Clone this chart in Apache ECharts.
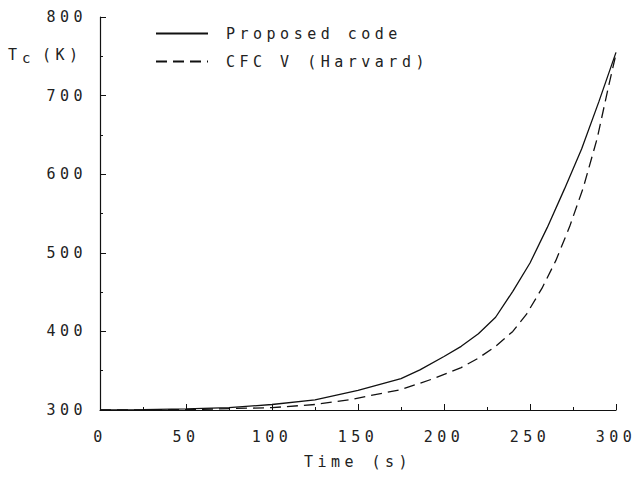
<!DOCTYPE html>
<html>
<head>
<meta charset="utf-8">
<script src="https://cdn.jsdelivr.net/npm/echarts@6/dist/echarts.min.js"></script>
<style>
html,body{margin:0;padding:0;background:#fff}
#c{width:638px;height:485px}
#c svg text{letter-spacing:4.5px}
</style>
</head>
<body>
<div id="c"></div>
<script>
const seriesNames = ['Proposed code', 'CFC V (Harvard)'];
const proposedT = [0, 25, 50, 75, 100, 125, 150, 175, 186, 200, 210, 220, 230, 240, 250, 260, 270, 280, 290, 300];
const proposedK = [300, 300.5, 301.5, 303, 307, 313, 325, 340, 351, 368, 381, 397, 418, 451, 487, 532, 581, 632, 692, 755];
const cfcT = [0, 50, 100, 125, 145, 175, 194, 210, 220, 230, 240, 248, 257, 265, 273, 281, 289, 296, 300];
const cfcK = [300, 300.5, 303, 307, 313, 326, 340, 354, 366, 381, 400, 422, 455, 490, 533, 583, 645, 715, 753];
const xTicks = [0, 50, 100, 150, 200, 250, 300];
const yTicks = [300, 400, 500, 600, 700, 800];

const font = "'DejaVu Sans Mono', monospace";
const chart = echarts.init(document.getElementById('c'), null, { renderer: 'svg' });
chart.setOption({
  animation: false,
  backgroundColor: '#fff',
  grid: { left: 100, right: 22, top: 17, bottom: 75 },
  legend: {
    orient: 'vertical', left: 150, top: 21, itemGap: 13, itemWidth: 52, itemHeight: 10,
    itemStyle: { opacity: 0 },
    textStyle: { fontFamily: font, fontSize: 15, color: '#222', padding: [0, 0, 0, 13] },
    data: seriesNames.map(n => ({ name: n }))
  },
  xAxis: {
    type: 'value', min: xTicks[0], max: xTicks[xTicks.length - 1], interval: 50,
    axisLine: { lineStyle: { color: '#111', width: 1.2 } },
    axisTick: { inside: true, length: 6, lineStyle: { color: '#111' } },
    minorTick: { show: true, splitNumber: 2, length: 3, lineStyle: { color: '#111' } },
    splitLine: { show: false },
    axisLabel: { margin: 19, fontFamily: font, fontSize: 15, color: '#222' },
    name: 'Time (s)', nameLocation: 'middle', nameGap: 44,
    nameTextStyle: { fontFamily: font, fontSize: 15, color: '#222' }
  },
  yAxis: {
    type: 'value', min: yTicks[0], max: yTicks[yTicks.length - 1], interval: 100,
    axisLine: { show: true, lineStyle: { color: '#111', width: 1.2 } },
    axisTick: { show: true, inside: true, length: 6, lineStyle: { color: '#111' } },
    minorTick: { show: true, splitNumber: 2, length: 3, lineStyle: { color: '#111' } },
    splitLine: { show: false },
    axisLabel: { margin: 13, fontFamily: font, fontSize: 15, color: '#222' }
  },
  graphic: [
    { type: 'text', left: 8, top: 47, style: { text: 'T', fontFamily: font, fontSize: 15, fill: '#222' } },
    { type: 'text', left: 22, top: 51, style: { text: 'c', fontFamily: font, fontSize: 14, fill: '#222' } },
    { type: 'text', left: 42, top: 47, style: { text: '(K)', fontFamily: font, fontSize: 15, fill: '#222' } }
  ],
  series: [
    {
      name: seriesNames[0], type: 'line', symbol: 'none', smooth: false,
      lineStyle: { color: '#111', width: 1.3, type: 'solid' }, itemStyle: { color: '#111' },
      data: proposedT.map((t, i) => [t, proposedK[i]])
    },
    {
      name: seriesNames[1], type: 'line', symbol: 'none', smooth: false,
      lineStyle: { color: '#111', width: 1.3, type: [11, 6] }, itemStyle: { color: '#111' },
      data: cfcT.map((t, i) => [t, cfcK[i]])
    }
  ]
});
</script>
</body>
</html>
